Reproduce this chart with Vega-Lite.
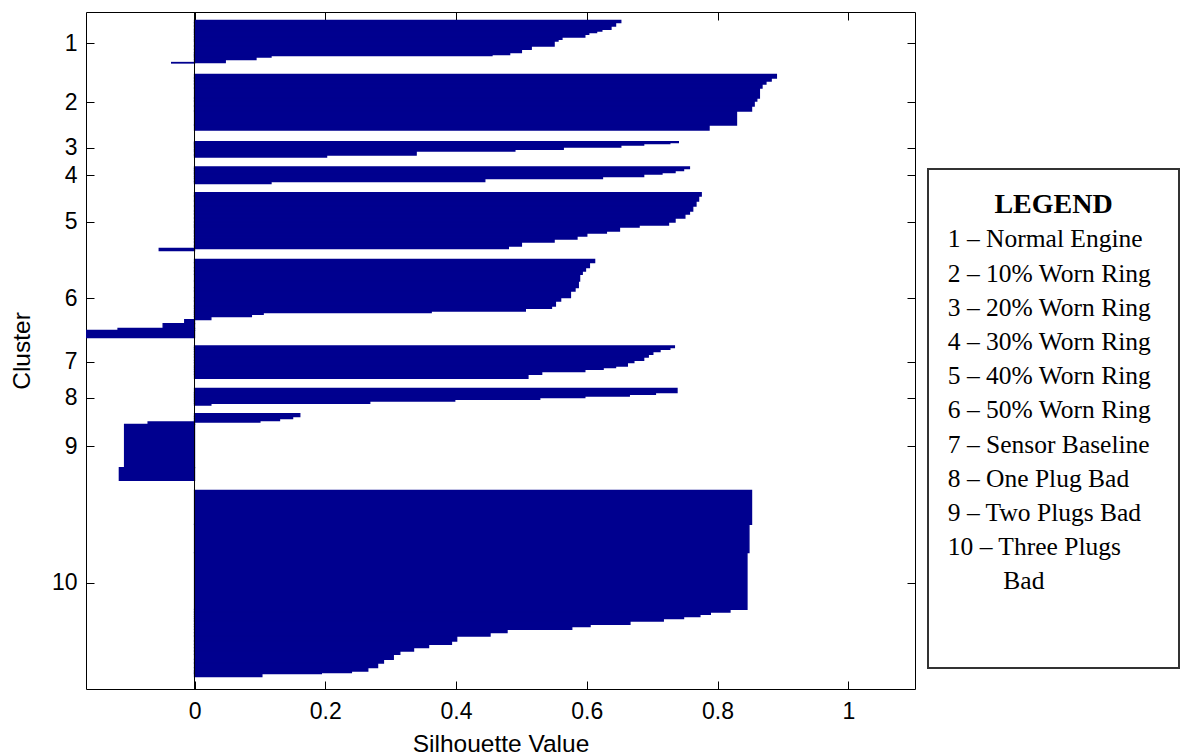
{
  "$schema": "https://vega.github.io/schema/vega-lite/v6.json",
  "background": "white",
  "padding": {"left": 9, "top": 11, "right": 0, "bottom": 0},
  "config": {
    "view": {"stroke": null},
    "axis": {
      "domainColor": "black", "domainWidth": 1,
      "tickColor": "black", "tickWidth": 1,
      "labelColor": "black", "titleColor": "black",
      "labelFont": "Liberation Sans", "titleFont": "Liberation Sans",
      "labelFontSize": 23, "titleFontSize": 24.5, "titleFontWeight": "normal",
      "grid": false
    }
  },
  "spacing": 11,
  "hconcat": [
    {
      "width": 829,
      "height": 677,
      "resolve": {"axis": {"x": "independent", "y": "independent"}},
      "layer": [
        {
          "data": {"values": [
            {"c":1,"y0":8.5,"y1":10.7,"s":0.652},{"c":1,"y0":10.7,"y1":14,"s":0.644},{"c":1,"y0":14,"y1":17.3,"s":0.637},{"c":1,"y0":17.3,"y1":19,"s":0.623},{"c":1,"y0":19,"y1":20.7,"s":0.615},{"c":1,"y0":20.7,"y1":22.3,"s":0.603},{"c":1,"y0":22.3,"y1":25,"s":0.597},{"c":1,"y0":25,"y1":27.3,"s":0.562},{"c":1,"y0":27.3,"y1":29,"s":0.556},{"c":1,"y0":29,"y1":34,"s":0.55},{"c":1,"y0":34,"y1":37.3,"s":0.515},{"c":1,"y0":37.3,"y1":40.7,"s":0.5},{"c":1,"y0":40.7,"y1":42.5,"s":0.482},{"c":1,"y0":42.5,"y1":43.5,"s":0.455},{"c":1,"y0":43.5,"y1":45,"s":0.117},{"c":1,"y0":45,"y1":47.5,"s":0.094},{"c":1,"y0":47.5,"y1":50.5,"s":0.047},{"c":1,"y0":50.5,"y1":51,"s":-0.035},
            {"c":2,"y0":62.3,"y1":66,"s":0.89},{"c":2,"y0":66,"y1":69,"s":0.882},{"c":2,"y0":69,"y1":72,"s":0.874},{"c":2,"y0":72,"y1":76,"s":0.868},{"c":2,"y0":76,"y1":86,"s":0.864},{"c":2,"y0":86,"y1":89,"s":0.86},{"c":2,"y0":89,"y1":94,"s":0.856},{"c":2,"y0":94,"y1":99,"s":0.852},{"c":2,"y0":99,"y1":113,"s":0.829},{"c":2,"y0":113,"y1":118,"s":0.787},
            {"c":3,"y0":129.7,"y1":130.7,"s":0.74},{"c":3,"y0":130.7,"y1":131.7,"s":0.727},{"c":3,"y0":131.7,"y1":133,"s":0.687},{"c":3,"y0":133,"y1":135,"s":0.652},{"c":3,"y0":135,"y1":137.3,"s":0.564},{"c":3,"y0":137.3,"y1":139,"s":0.49},{"c":3,"y0":139,"y1":143,"s":0.339},{"c":3,"y0":143,"y1":145,"s":0.202},
            {"c":4,"y0":155,"y1":156.5,"s":0.757},{"c":4,"y0":156.5,"y1":158.5,"s":0.748},{"c":4,"y0":158.5,"y1":160.5,"s":0.735},{"c":4,"y0":160.5,"y1":162,"s":0.715},{"c":4,"y0":162,"y1":164.5,"s":0.687},{"c":4,"y0":164.5,"y1":166.5,"s":0.624},{"c":4,"y0":166.5,"y1":169.5,"s":0.444},{"c":4,"y0":169.5,"y1":171.7,"s":0.117},
            {"c":5,"y0":180.7,"y1":184,"s":0.775},{"c":5,"y0":184,"y1":189,"s":0.771},{"c":5,"y0":189,"y1":194,"s":0.767},{"c":5,"y0":194,"y1":199,"s":0.762},{"c":5,"y0":199,"y1":202,"s":0.757},{"c":5,"y0":202,"y1":206,"s":0.75},{"c":5,"y0":206,"y1":210,"s":0.735},{"c":5,"y0":210,"y1":213,"s":0.725},{"c":5,"y0":213,"y1":215,"s":0.68},{"c":5,"y0":215,"y1":219,"s":0.65},{"c":5,"y0":219,"y1":221,"s":0.63},{"c":5,"y0":221,"y1":224,"s":0.6},{"c":5,"y0":224,"y1":227,"s":0.585},{"c":5,"y0":227,"y1":230,"s":0.55},{"c":5,"y0":230,"y1":234,"s":0.5},{"c":5,"y0":234,"y1":236.5,"s":0.48},{"c":5,"y0":236.5,"y1":238.5,"s":-0.054},
            {"c":6,"y0":247.3,"y1":250.7,"s":0.612},{"c":6,"y0":250.7,"y1":255.7,"s":0.604},{"c":6,"y0":255.7,"y1":259,"s":0.598},{"c":6,"y0":259,"y1":262.3,"s":0.593},{"c":6,"y0":262.3,"y1":269,"s":0.589},{"c":6,"y0":269,"y1":275.7,"s":0.587},{"c":6,"y0":275.7,"y1":279,"s":0.582},{"c":6,"y0":279,"y1":285.7,"s":0.575},{"c":6,"y0":285.7,"y1":289,"s":0.56},{"c":6,"y0":289,"y1":294,"s":0.552},{"c":6,"y0":294,"y1":296.3,"s":0.546},{"c":6,"y0":296.3,"y1":299,"s":0.506},{"c":6,"y0":299,"y1":300.7,"s":0.362},{"c":6,"y0":300.7,"y1":302.3,"s":0.105},{"c":6,"y0":302.3,"y1":304.7,"s":0.087},{"c":6,"y0":304.7,"y1":307.7,"s":0.025},{"c":6,"y0":307.7,"y1":311.7,"s":-0.015},{"c":6,"y0":311.7,"y1":316.3,"s":-0.048},{"c":6,"y0":316.3,"y1":318.3,"s":-0.117},{"c":6,"y0":318.3,"y1":325.7,"s":-0.2},
            {"c":7,"y0":334,"y1":335.7,"s":0.734},{"c":7,"y0":335.7,"y1":337.3,"s":0.727},{"c":7,"y0":337.3,"y1":339.7,"s":0.712},{"c":7,"y0":339.7,"y1":342.3,"s":0.701},{"c":7,"y0":342.3,"y1":345,"s":0.694},{"c":7,"y0":345,"y1":348.3,"s":0.687},{"c":7,"y0":348.3,"y1":350.7,"s":0.672},{"c":7,"y0":350.7,"y1":354,"s":0.662},{"c":7,"y0":354,"y1":355.7,"s":0.644},{"c":7,"y0":355.7,"y1":357.3,"s":0.625},{"c":7,"y0":357.3,"y1":359.7,"s":0.597},{"c":7,"y0":359.7,"y1":362.3,"s":0.531},{"c":7,"y0":362.3,"y1":366.3,"s":0.51},
            {"c":8,"y0":376.3,"y1":380.7,"s":0.738},{"c":8,"y0":380.7,"y1":382.3,"s":0.705},{"c":8,"y0":382.3,"y1":384,"s":0.665},{"c":8,"y0":384,"y1":385.7,"s":0.597},{"c":8,"y0":385.7,"y1":387.3,"s":0.528},{"c":8,"y0":387.3,"y1":389,"s":0.398},{"c":8,"y0":389,"y1":391.3,"s":0.268},{"c":8,"y0":391.3,"y1":393,"s":0.025},
            {"c":9,"y0":401.7,"y1":404.5,"s":0.161},{"c":9,"y0":404.5,"y1":406.5,"s":0.15},{"c":9,"y0":406.5,"y1":408.5,"s":0.13},{"c":9,"y0":408.5,"y1":410,"s":0.1},{"c":9,"y0":410,"y1":412.3,"s":-0.071},{"c":9,"y0":412.3,"y1":455.7,"s":-0.107},{"c":9,"y0":455.7,"y1":468.3,"s":-0.115},
            {"c":10,"y0":478.3,"y1":512.3,"s":0.852},{"c":10,"y0":512.3,"y1":540.7,"s":0.848},{"c":10,"y0":540.7,"y1":597.3,"s":0.845},{"c":10,"y0":597.3,"y1":600,"s":0.819},{"c":10,"y0":600,"y1":602.3,"s":0.789},{"c":10,"y0":602.3,"y1":604.7,"s":0.773},{"c":10,"y0":604.7,"y1":606.7,"s":0.748},{"c":10,"y0":606.7,"y1":609,"s":0.717},{"c":10,"y0":609,"y1":612.3,"s":0.666},{"c":10,"y0":612.3,"y1":614.7,"s":0.605},{"c":10,"y0":614.7,"y1":617.3,"s":0.577},{"c":10,"y0":617.3,"y1":620.7,"s":0.478},{"c":10,"y0":620.7,"y1":624,"s":0.452},{"c":10,"y0":624,"y1":629,"s":0.401},{"c":10,"y0":629,"y1":632.3,"s":0.393},{"c":10,"y0":632.3,"y1":635.7,"s":0.358},{"c":10,"y0":635.7,"y1":639,"s":0.335},{"c":10,"y0":639,"y1":642.3,"s":0.314},{"c":10,"y0":642.3,"y1":647.3,"s":0.304},{"c":10,"y0":647.3,"y1":651,"s":0.289},{"c":10,"y0":651,"y1":655.7,"s":0.28},{"c":10,"y0":655.7,"y1":659,"s":0.265},{"c":10,"y0":659,"y1":660.7,"s":0.24},{"c":10,"y0":660.7,"y1":661.7,"s":0.194},{"c":10,"y0":661.7,"y1":664.5,"s":0.103}
          ]},
          "mark": {"type": "rect", "color": "#00008F", "stroke": "#00008F", "strokeWidth": 1.3, "clip": true},
          "encoding": {
            "x": {
              "field": "s", "type": "quantitative",
              "scale": {"domain": [-0.166, 1.102], "nice": false, "zero": false},
              "axis": {"orient": "bottom", "values": [0, 0.2, 0.4, 0.6, 0.8, 1], "format": "~g",
                       "title": "Silhouette Value", "tickSize": -8, "labelPadding": 19, "titlePadding": 9}
            },
            "x2": {"datum": 0},
            "y": {
              "field": "y0", "type": "quantitative",
              "scale": {"domain": [0, 677], "reverse": true, "nice": false, "zero": false},
              "axis": {"orient": "left", "values": [31.3, 90, 135.7, 163, 209.7, 286, 349.7, 385.7, 434, 570.7],
                       "labelExpr": "indexof([31.3, 90, 135.7, 163, 209.7, 286, 349.7, 385.7, 434, 570.7], datum.value) + 1",
                       "title": "Cluster", "tickSize": -8, "labelPadding": 17, "titlePadding": 17}
            },
            "y2": {"field": "y1"}
          }
        },
        {
          "data": {"values": [{}]},
          "mark": {"type": "rule", "color": "black", "strokeWidth": 1},
          "encoding": {"x": {"datum": 0, "type": "quantitative", "axis": null}}
        },
        {
          "data": {"values": []},
          "mark": "point",
          "encoding": {
            "x": {"field": "s", "type": "quantitative",
                  "axis": {"orient": "top", "values": [0, 0.2, 0.4, 0.6, 0.8, 1], "labels": false, "title": null, "tickSize": -8}},
            "y": {"field": "y0", "type": "quantitative",
                  "axis": {"orient": "right", "values": [31.3, 90, 135.7, 163, 209.7, 286, 349.7, 385.7, 434, 570.7], "labels": false, "title": null, "tickSize": -8}}
          }
        }
      ]
    },
    {
      "spacing": 0,
      "vconcat": [
        {
          "width": 251,
          "height": 156,
          "data": {"values": []},
          "mark": "point"
        },
        {
          "width": 251,
          "height": 499,
          "view": {"stroke": "#333333", "strokeWidth": 2},
          "data": {"values": [
            {"line": 0, "label": "LEGEND", "role": "heading"},
            {"line": 1, "label": "1 – Normal Engine", "role": "item"},
            {"line": 2, "label": "2 – 10% Worn Ring", "role": "item"},
            {"line": 3, "label": "3 – 20% Worn Ring", "role": "item"},
            {"line": 4, "label": "4 – 30% Worn Ring", "role": "item"},
            {"line": 5, "label": "5 – 40% Worn Ring", "role": "item"},
            {"line": 6, "label": "6 – 50% Worn Ring", "role": "item"},
            {"line": 7, "label": "7 – Sensor Baseline", "role": "item"},
            {"line": 8, "label": "8 – One Plug Bad", "role": "item"},
            {"line": 9, "label": "9 – Two Plugs Bad", "role": "item"},
            {"line": 10, "label": "10 – Three Plugs", "role": "item"},
            {"line": 11, "label": "Bad", "role": "wrap"}
          ]},
          "encoding": {
            "y": {"field": "line", "type": "quantitative", "axis": null,
                  "scale": {"domain": [-1.29, 13.3], "reverse": true, "nice": false, "zero": false}},
            "text": {"field": "label"}
          },
          "layer": [
            {
              "transform": [{"filter": "datum.role == 'heading'"}],
              "mark": {"type": "text", "font": "Liberation Serif", "fontSize": 28, "fontWeight": "bold", "align": "center", "baseline": "alphabetic", "color": "black"},
              "encoding": {"x": {"datum": 0.5, "type": "quantitative", "axis": null, "scale": {"domain": [0, 1], "nice": false}}}
            },
            {
              "transform": [{"filter": "datum.role == 'item'"}],
              "mark": {"type": "text", "font": "Liberation Serif", "fontSize": 25.5, "align": "left", "baseline": "alphabetic", "color": "black"},
              "encoding": {"x": {"datum": 0.079, "type": "quantitative", "axis": null}}
            },
            {
              "transform": [{"filter": "datum.role == 'wrap'"}],
              "mark": {"type": "text", "font": "Liberation Serif", "fontSize": 25.5, "align": "left", "baseline": "alphabetic", "color": "black"},
              "encoding": {"x": {"datum": 0.3, "type": "quantitative", "axis": null}}
            }
          ]
        }
      ]
    }
  ]
}
